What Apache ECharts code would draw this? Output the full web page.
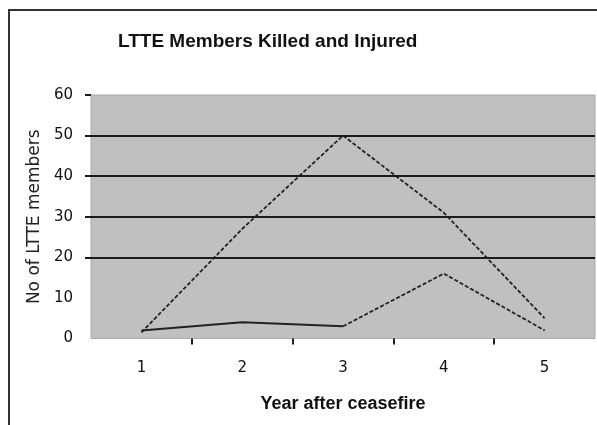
<!DOCTYPE html>
<html>
<head>
<meta charset="utf-8">
<script src="https://cdn.jsdelivr.net/npm/echarts@6/dist/echarts.min.js"></script>
<style>
  html, body { margin: 0; padding: 0; background: #fff; }
  #lineChart { width: 597px; height: 425px; }
</style>
</head>
<body>
<div id="lineChart"></div>
<script>
// data
var years = ['1', '2', '3', '4', '5'];
var upperLine = [1.5, 27, 50, 31, 5];
var lowerLine = [2, 4, 3, 16, 2];
var yTicks = [0, 10, 20, 30, 40, 50, 60];
var darkGrid = [20, 30, 40, 50]; // only these grid lines survive in the scan

// lower line is solid up to year 3, dashed after
var lowerFirst = lowerLine.map(function (v, i) { return i <= 2 ? v : null; });
var lowerSecond = lowerLine.map(function (v, i) { return i >= 2 ? v : null; });
// ticks sit between the categories
var betweenTicks = years.slice(1).map(function (y, i) { return i + 1.5; });

var chart = echarts.init(document.getElementById('lineChart'));

var option = {
  animation: false,
  title: {
    text: 'LTTE Members Killed and Injured',
    left: 113,
    top: 27,
    textStyle: {
      fontFamily: 'Liberation Sans',
      fontWeight: 'bold',
      fontSize: 19,
      color: '#111'
    }
  },
  graphic: [{
    type: 'rect',
    shape: { x: 9, y: 10, width: 700, height: 600 },
    style: { fill: 'none', stroke: '#333', lineWidth: 2 },
    silent: true
  }],
  grid: {
    left: 91,
    right: 2,
    top: 95,
    bottom: 86.5,
    show: true,
    backgroundColor: '#c0c0c0',
    borderColor: '#a9a9a9',
    borderWidth: 1
  },
  xAxis: [{
    type: 'category',
    data: years,
    boundaryGap: true,
    name: 'Year after ceasefire',
    nameLocation: 'middle',
    nameGap: 57,
    nameTextStyle: {
      fontFamily: 'Liberation Sans',
      fontWeight: 'bold',
      fontSize: 18,
      color: '#111'
    },
    axisLine: { show: false },
    axisTick: { show: false },
    axisLabel: {
      margin: 22,
      fontFamily: 'DejaVu Sans',
      fontSize: 15,
      color: '#111'
    }
  }, {
    type: 'value',
    position: 'bottom',
    min: 0.5,
    max: 5.5,
    axisLine: { show: false },
    axisLabel: { show: false },
    splitLine: { show: false },
    axisTick: {
      show: true,
      customValues: betweenTicks,
      length: 6,
      lineStyle: { color: '#222', width: 2 }
    }
  }],
  yAxis: {
    type: 'value',
    min: 0,
    max: 60,
    interval: 10,
    name: 'No of LTTE members',
    nameLocation: 'middle',
    nameGap: 47,
    nameTextStyle: {
      fontFamily: 'DejaVu Sans',
      fontSize: 17,
      color: '#222'
    },
    axisLine: { show: false },
    axisTick: {
      show: true,
      customValues: yTicks.slice(2),
      length: 6,
      lineStyle: { color: '#1a1a1a', width: 2 }
    },
    axisLabel: {
      margin: 18,
      fontFamily: 'DejaVu Sans',
      fontSize: 15,
      color: '#111'
    },
    splitLine: { show: false }
  },
  series: [
    {
      name: 'Upper',
      type: 'line',
      data: upperLine,
      showSymbol: false,
      z: 3,
      lineStyle: { color: '#222', width: 1.8, type: [4, 2] }
    },
    {
      name: 'Lower',
      type: 'line',
      data: lowerFirst,
      showSymbol: false,
      z: 1,
      lineStyle: { color: '#222', width: 2 },
      markLine: {
        silent: true,
        symbol: 'none',
        label: { show: false },
        lineStyle: { color: '#1a1a1a', width: 2, type: 'solid' },
        data: darkGrid.map(function (v) { return { yAxis: v }; })
      }
    },
    {
      name: 'Lower',
      type: 'line',
      data: lowerSecond,
      showSymbol: false,
      z: 3,
      lineStyle: { color: '#222', width: 1.8, type: [4, 2] }
    }
  ]
};

chart.setOption(option);
</script>
</body>
</html>
